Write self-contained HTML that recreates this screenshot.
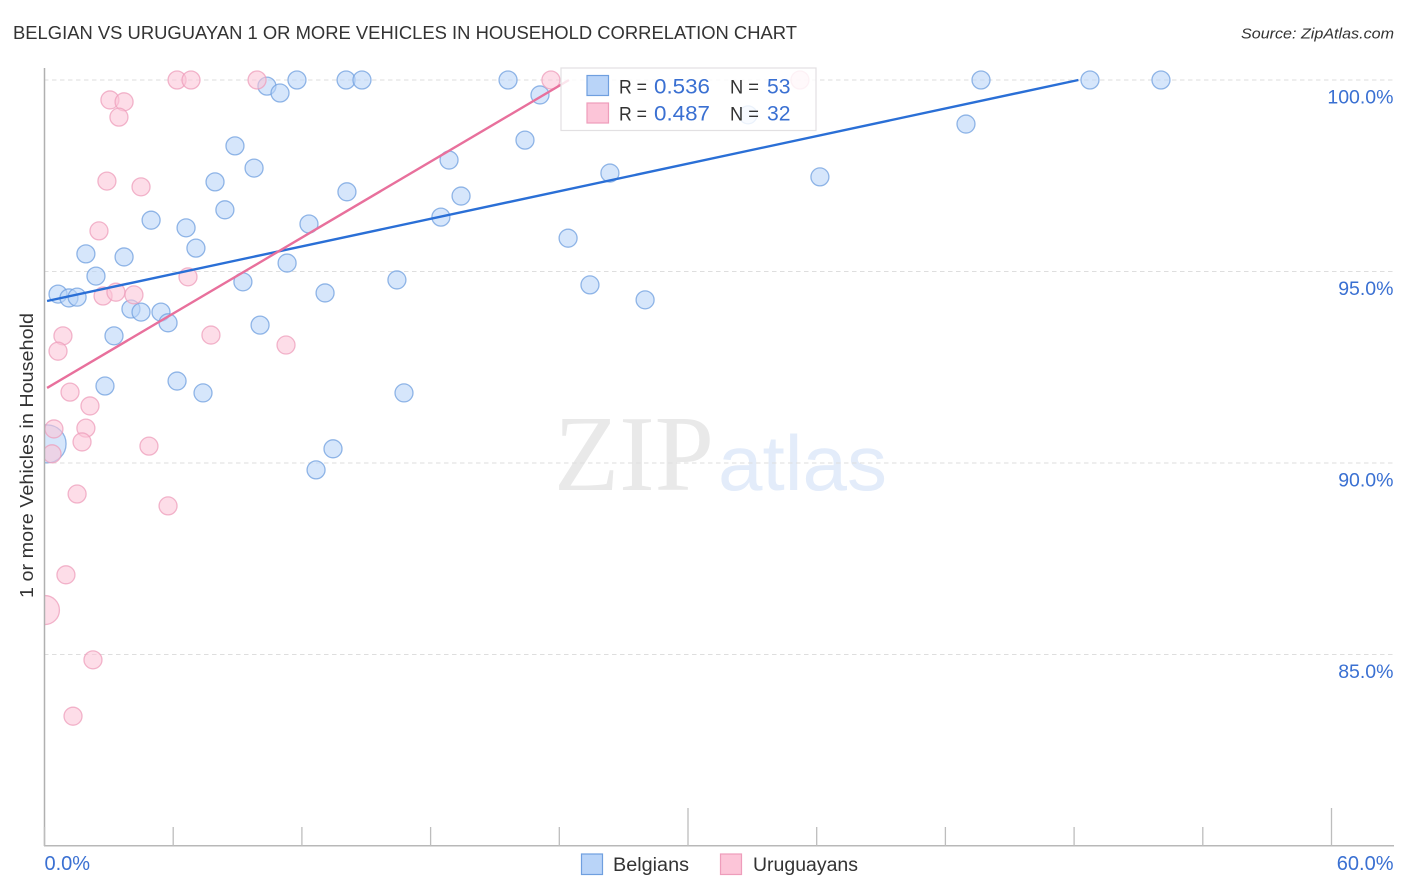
<!DOCTYPE html>
<html lang="en">
<head>
<meta charset="utf-8">
<title>Belgian vs Uruguayan chart</title>
<style>
html,body{margin:0;padding:0;background:#fff;}
body{width:1406px;height:892px;overflow:hidden;}
svg{display:block;font-family:"Liberation Sans",sans-serif;}
</style>
</head>
<body>
<svg id="chart" width="1406" height="892" viewBox="0 0 1406 892" xmlns="http://www.w3.org/2000/svg">
  <defs>
    <clipPath id="plot-clip"><rect x="45" y="60" width="1350" height="786"/></clipPath>
  </defs>
  <text x="13" y="39" font-size="18.5" fill="#333" textLength="784" lengthAdjust="spacingAndGlyphs">BELGIAN VS URUGUAYAN 1 OR MORE VEHICLES IN HOUSEHOLD CORRELATION CHART</text>
  <text x="1241" y="38.5" font-size="15" font-style="italic" fill="#333" textLength="153" lengthAdjust="spacingAndGlyphs">Source: ZipAtlas.com</text>

  <g>
    <text x="554" y="490" font-family="'Liberation Serif',serif" font-size="108" fill="#e9e9e9" textLength="160" lengthAdjust="spacingAndGlyphs">ZIP</text>
    <text x="718" y="490" font-size="78" fill="#e3ecfa" textLength="169" lengthAdjust="spacingAndGlyphs">atlas</text>
  </g>

  <g id="grid"></g>
  <g id="points" clip-path="url(#plot-clip)"></g>
  <g id="trends"></g>
  <g id="axes">
    <line x1="44.5" y1="68" x2="44.5" y2="846" stroke="#b0b0b0" stroke-width="1.5"/>
    <line x1="44" y1="845.8" x2="1394" y2="845.8" stroke="#b8b8b8" stroke-width="1.5"/>
  </g>
  <g id="ylabels"></g>
  <g id="xlabels"></g>

  <text transform="translate(33,598) rotate(-90)" font-size="18.5" fill="#333" textLength="285" lengthAdjust="spacingAndGlyphs">1 or more Vehicles in Household</text>

  <g>
    <rect x="561" y="68" width="255" height="62.5" fill="#fff" fill-opacity="0.82" stroke="#e2e0e2" stroke-width="1.2"/>
    <rect x="587" y="75.5" width="21.5" height="20" fill="#b9d4f8" stroke="#6f9fdf" stroke-width="1.2"/>
    <rect x="587" y="103" width="21.5" height="20" fill="#fcc5d8" stroke="#ee9dbb" stroke-width="1.2"/>
    <text x="619" y="93.5" font-size="19" fill="#333" textLength="28" lengthAdjust="spacingAndGlyphs">R =</text>
    <text x="654" y="93.5" font-size="21" fill="#3a70d2" textLength="56" lengthAdjust="spacingAndGlyphs">0.536</text>
    <text x="730" y="93.5" font-size="19" fill="#333" textLength="29" lengthAdjust="spacingAndGlyphs">N =</text>
    <text x="767" y="93.5" font-size="21" fill="#3a70d2" textLength="23.5" lengthAdjust="spacingAndGlyphs">53</text>
    <text x="619" y="120.5" font-size="19" fill="#333" textLength="28" lengthAdjust="spacingAndGlyphs">R =</text>
    <text x="654" y="120.5" font-size="21" fill="#3a70d2" textLength="56" lengthAdjust="spacingAndGlyphs">0.487</text>
    <text x="730" y="120.5" font-size="19" fill="#333" textLength="29" lengthAdjust="spacingAndGlyphs">N =</text>
    <text x="767" y="120.5" font-size="21" fill="#3a70d2" textLength="23.5" lengthAdjust="spacingAndGlyphs">32</text>
  </g>

  <g>
    <rect x="581.5" y="854" width="21" height="20.5" fill="#b9d4f8" stroke="#6f9fdf" stroke-width="1.2"/>
    <text x="613" y="871" font-size="19" fill="#333" textLength="76" lengthAdjust="spacingAndGlyphs">Belgians</text>
    <rect x="720.5" y="854" width="21" height="20.5" fill="#fcc5d8" stroke="#ee9dbb" stroke-width="1.2"/>
    <text x="753" y="871" font-size="19" fill="#333" textLength="105" lengthAdjust="spacingAndGlyphs">Uruguayans</text>
  </g>
</svg>

<script>
const belgianX = [0.63,1.14,1.52,1.93,2.40,3.71,3.24,2.82,4.03,4.50,5.43,5.76,4.97,6.60,7.06,7.95,8.41,8.88,9.77,9.25,10.05,6.18,7.39,11.31,12.33,13.08,14.10,16.43,16.76,13.45,12.66,10.37,10.98,11.77,14.06,14.80,21.61,23.10,22.40,18.86,19.42,18.48,24.41,25.43,28.00,26.36,32.80,36.15,42.96,43.66,48.74,52.05,0.12];
const belgianY = [94.41,94.31,94.33,95.46,94.88,95.38,93.32,92.01,94.02,93.94,93.94,93.66,96.34,96.14,95.61,97.34,96.61,98.28,97.70,94.73,93.60,92.14,91.83,95.22,96.24,94.44,97.08,94.78,91.83,90.37,89.82,99.84,99.66,100,100,100,100,99.61,98.43,97.91,96.97,96.42,95.87,94.65,94.26,97.57,99.09,97.47,98.85,100,100,100,90.50];
const belgianRadius = [9,9,9,9,9,9,9,9,9,9,9,9,9,9,9,9,9,9,9,9,9,9,9,9,9,9,9,9,9,9,9,9,9,9,9,9,9,9,9,9,9,9,9,9,9,9,9,9,9,9,9,9,19];

const uruguayanX = [6.18,6.83,9.91,23.61,35.22,3.05,3.71,3.47,2.91,4.50,2.54,2.73,3.33,4.17,6.69,7.76,11.26,0.86,0.63,1.19,2.12,1.93,1.75,0.44,0.35,4.87,1.52,5.76,1.00,0.02,2.26,1.33];
const uruguayanY = [100,100,100,100,100,99.48,99.43,99.03,97.36,97.21,96.06,94.36,94.46,94.39,94.86,93.34,93.08,93.32,92.92,91.85,91.49,90.91,90.55,90.89,90.24,90.44,89.19,88.88,87.08,86.16,84.86,83.39];
const uruguayanRadius = [9,9,9,9,9,9,9,9,9,9,9,9,9,9,9,9,9,9,9,9,9,9,9,9,9,9,9,9,9,14.5,9,9];

const belgianTrendX = [0.12,48.2];
const belgianTrendY = [94.23,100];
const uruguayanTrendX = [0.12,24.45];
const uruguayanTrendY = [91.96,100];

const yTickValues = [100,95,90,85];
const yTickLabels = ["100.0%","95.0%","90.0%","85.0%"];
const xMinorTicks = [0,6,12,18,24,30,36,42,48,54,60];
const xMajorTicks = [30,60];
const xEdgeValues = [0,60];
const xEdgeLabels = ["0.0%","60.0%"];

const NS = "http://www.w3.org/2000/svg";
function xScale(v){ return 44.5 + v * 21.45; }
function yScale(v){ return 80 + (100 - v) * 38.3; }
function make(tag, attrs, parent){
  const el = document.createElementNS(NS, tag);
  for (const k in attrs) el.setAttribute(k, attrs[k]);
  parent.appendChild(el);
  return el;
}

const gridG = document.getElementById("grid");
const yLabelG = document.getElementById("ylabels");
yTickValues.forEach(function(v, i){
  const g = make("line", {x1:44, x2:1394, y1:yScale(v), y2:yScale(v), stroke:"#dedede", "stroke-width":1.1, "stroke-dasharray":"4.5 3.5"}, gridG);
  
  
  const t = make("text", {x:1393.5, y:yScale(v) + 23.5, "font-size":19.5, fill:"#3a70d2", "text-anchor":"end"}, yLabelG);
  
  
  t.textContent = yTickLabels[i];
});

const axesG = document.getElementById("axes");
xMinorTicks.forEach(function(v){
  const top = xMajorTicks.indexOf(v) >= 0 ? 808 : 827;
  const tick = make("line", {x1:xScale(v), x2:xScale(v), y1:top, y2:846, stroke:"#bdbdbd", "stroke-width":1.3}, axesG);
  
  
});

const xLabelG = document.getElementById("xlabels");
xEdgeValues.forEach(function(v, i){
  const atStart = i === 0;
  const label = make("text", {x: atStart ? xScale(v) : 1393.5, y:870, "font-size":20, fill:"#3a70d2", "text-anchor": atStart ? "start" : "end"}, xLabelG);
  
  
  label.textContent = xEdgeLabels[i];
});

const pointsG = document.getElementById("points");
belgianX.forEach(function(v, i){
  const c = make("circle", {cx:xScale(v), cy:yScale(belgianY[i]), r:belgianRadius[i], fill:"#b9d4f8", "fill-opacity":0.58, stroke:"#6f9fdf", "stroke-opacity":0.75, "stroke-width":1.3}, pointsG);
  
  
});
uruguayanX.forEach(function(v, i){
  const c = make("circle", {cx:xScale(v), cy:yScale(uruguayanY[i]), r:uruguayanRadius[i], fill:"#fcc5d8", "fill-opacity":0.58, stroke:"#ee9dbb", "stroke-opacity":0.75, "stroke-width":1.3}, pointsG);
  
  
});

const trendG = document.getElementById("trends");
const blueTrend = make("line", {x1:xScale(belgianTrendX[0]), y1:yScale(belgianTrendY[0]), x2:xScale(belgianTrendX[1]), y2:yScale(belgianTrendY[1]), stroke:"#2a6fd6", "stroke-width":2.4}, trendG);


const pinkTrend = make("line", {x1:xScale(uruguayanTrendX[0]), y1:yScale(uruguayanTrendY[0]), x2:xScale(uruguayanTrendX[1]), y2:yScale(uruguayanTrendY[1]), stroke:"#e8709c", "stroke-width":2.4}, trendG);


</script>
</body>
</html>
